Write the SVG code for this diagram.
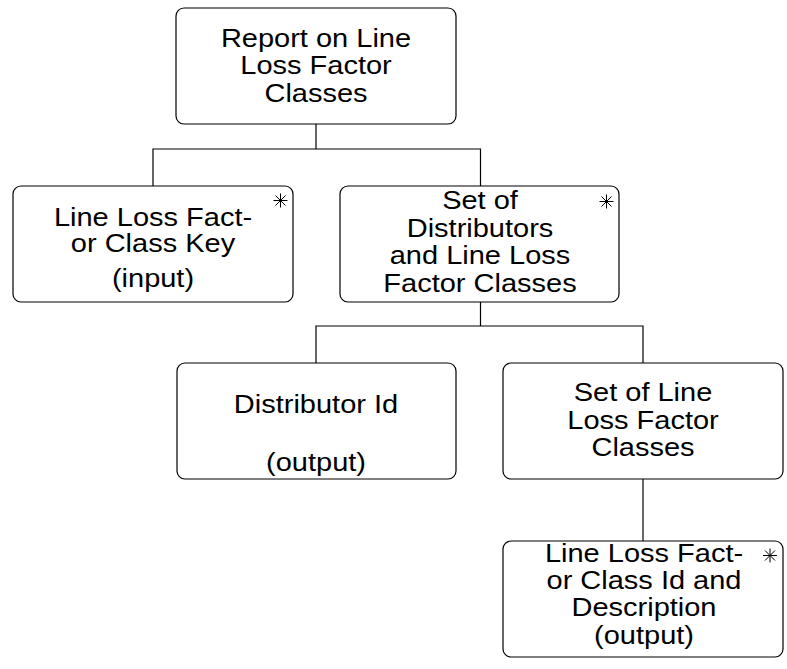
<svg xmlns="http://www.w3.org/2000/svg" width="787" height="669" viewBox="0 0 787 669">
<style>
.box{fill:#fff;stroke:#000;stroke-width:1.2}
.conn{fill:none;stroke:#000;stroke-width:1.2}
.t{font-family:"Liberation Sans",Arial,sans-serif;font-size:25px;fill:#000;text-anchor:middle}
.star{stroke:#000;stroke-width:1;fill:none}
</style>
<defs>
<path id="ast" d="M0,-7V7M-7,0H7M-5,-5L5,5M-5,5L5,-5" class="star"/>
</defs>
<rect width="787" height="669" fill="#fff"/>
<g id="connectors">
<path class="conn" d="M316,124V149M153,186V149H480.5V186"/>
<path class="conn" d="M480.5,302V326M316,363V326H643V363"/>
<path class="conn" d="M643,479V541"/>
</g>
<g id="root">
<rect class="box" x="176" y="8" width="280" height="116" rx="8"/>
<g transform="translate(316,0) scale(1.16,1)">
<text class="t" x="0" y="47">Report on Line</text>
<text class="t" x="0" y="74.5">Loss Factor</text>
<text class="t" x="0" y="102">Classes</text>
</g>
</g>
<g id="key">
<rect class="box" x="13" y="186" width="280" height="116" rx="8"/>
<use href="#ast" x="280.5" y="200.5"/>
<g transform="translate(153,0) scale(1.16,1)">
<text class="t" x="0" y="226">Line Loss Fact-</text>
<text class="t" x="0" y="252.5">or Class Key</text>
<text class="t" x="0" y="287">(input)</text>
</g>
</g>
<g id="setdist">
<rect class="box" x="340" y="186" width="279" height="116" rx="8"/>
<use href="#ast" x="606.5" y="201.5"/>
<g transform="translate(480,0) scale(1.16,1)">
<text class="t" x="0" y="209">Set of</text>
<text class="t" x="0" y="237">Distributors</text>
<text class="t" x="0" y="264.5">and Line Loss</text>
<text class="t" x="0" y="292">Factor Classes</text>
</g>
</g>
<g id="distid">
<rect class="box" x="177" y="363" width="279" height="116" rx="8"/>
<g transform="translate(316,0) scale(1.16,1)">
<text class="t" x="0" y="413.5">Distributor Id</text>
<text class="t" x="0" y="471.5">(output)</text>
</g>
</g>
<g id="setllf">
<rect class="box" x="503" y="363" width="280" height="116" rx="8"/>
<g transform="translate(643,0) scale(1.16,1)">
<text class="t" x="0" y="401.5">Set of Line</text>
<text class="t" x="0" y="429">Loss Factor</text>
<text class="t" x="0" y="456.5">Classes</text>
</g>
</g>
<g id="llfid">
<rect class="box" x="503" y="541" width="280" height="116" rx="8"/>
<use href="#ast" x="770" y="555.5"/>
<g transform="translate(644,0) scale(1.16,1)">
<text class="t" x="0" y="562.5">Line Loss Fact-</text>
<text class="t" x="0" y="589.5">or Class Id and</text>
<text class="t" x="0" y="616.5">Description</text>
<text class="t" x="0" y="644">(output)</text>
</g>
</g>
</svg>
